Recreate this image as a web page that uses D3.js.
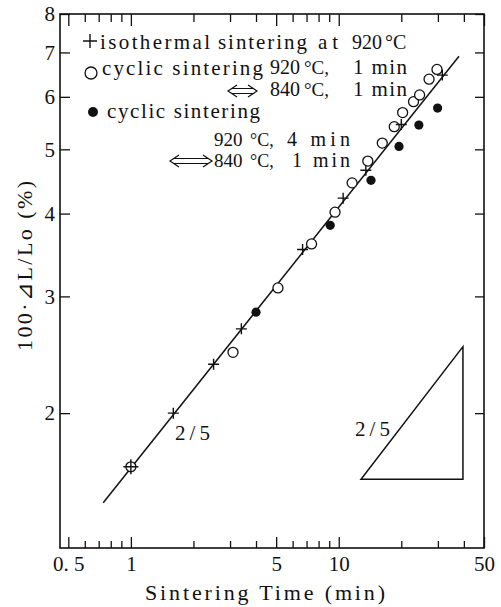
<!DOCTYPE html>
<html>
<head>
<meta charset="utf-8">
<script src="https://cdn.jsdelivr.net/npm/d3@7"></script>
<style>
  body { margin: 0; background: #fff; }
  text { font-family: "Liberation Serif", "DejaVu Serif", serif; fill: #111; }
</style>
</head>
<body>
<svg id="chart" width="501" height="607"></svg>
<script>

// data (time in min, 100*dL/Lo in %)
var isoTime = [1, 1.6, 2.5, 3.4, 6.7, 10.5, 13.5, 20, 31.5];
var isoVal = [1.66, 2.0, 2.37, 2.68, 3.53, 4.22, 4.65, 5.45, 6.47];

var cyc1Time = [1, 3.1, 5.1, 7.4, 9.6, 11.6, 13.8, 16.2, 18.5, 20.3, 22.9, 24.5, 27.2, 29.7];
var cyc1Val = [1.66, 2.47, 3.09, 3.60, 4.02, 4.45, 4.80, 5.11, 5.41, 5.68, 5.90, 6.04, 6.38, 6.60];

var cyc4Time = [4.0, 9.1, 14.3, 19.5, 24.3, 29.9];
var cyc4Val = [2.84, 3.84, 4.49, 5.05, 5.44, 5.77];

// fitted line (slope 2/5) and the slope triangle
var fitLine = [[0.736, 1.465], [37.9, 6.91]];
var slopeTri = [[12.8, 1.59], [39.6, 1.59], [39.6, 2.52]];

// ticks
var xMajor = [0.5, 1, 5, 10, 50];
var xMajorLabels = ["0. 5", "1", "5", "10", "50"];
var xMinor = [0.6, 0.7, 0.8, 0.9, 2, 3, 4, 6, 7, 8, 9, 20, 30, 40];
var yTicks = [2, 3, 4, 5, 6, 7, 8];

var svg = d3.select("#chart");

// plot box (window.top is read only, so other names here)
var boxL = 60, boxR = 484, boxT = 14, boxB = 548;

var x = d3.scaleLog().domain([0.456, 50]).range([boxL, boxR]);
var y = d3.scaleLog().domain([1.252, 8]).range([boxB, boxT]);

// frame
svg.append("rect")
  .attr("x", boxL).attr("y", boxT)
  .attr("width", boxR - boxL).attr("height", boxB - boxT)
  .attr("fill", "none").attr("stroke", "#111").attr("stroke-width", 1.6);

function styleAxis(g) {
  g.select(".domain").remove();
  g.selectAll("line").attr("stroke", "#111").attr("stroke-width", 1.3);
  g.selectAll("text")
    .attr("font-family", "'Liberation Serif', serif")
    .attr("font-size", 21)
    .attr("fill", "#111");
}

// bottom axis, ticks pointing in
svg.append("g")
  .attr("transform", "translate(0," + boxB + ")")
  .call(d3.axisBottom(x).tickValues(xMajor).tickSize(-11).tickPadding(8)
    .tickFormat(function(d, i) { return xMajorLabels[i]; }))
  .call(styleAxis);

svg.append("g")
  .attr("transform", "translate(0," + boxB + ")")
  .call(d3.axisBottom(x).tickValues(xMinor).tickSize(-7).tickFormat(""))
  .call(styleAxis);

// top axis, ticks only
svg.append("g")
  .attr("transform", "translate(0," + boxT + ")")
  .call(d3.axisTop(x).tickValues(xMajor).tickSize(-12).tickFormat(""))
  .call(styleAxis);

svg.append("g")
  .attr("transform", "translate(0," + boxT + ")")
  .call(d3.axisTop(x).tickValues(xMinor).tickSize(-8).tickFormat(""))
  .call(styleAxis);

// left axis
svg.append("g")
  .attr("transform", "translate(" + boxL + ",0)")
  .call(d3.axisLeft(y).tickValues(yTicks).tickSize(-10).tickPadding(5)
    .tickFormat(d3.format("d")))
  .call(styleAxis);

// right axis, ticks only
svg.append("g")
  .attr("transform", "translate(" + boxR + ",0)")
  .call(d3.axisRight(y).tickValues(yTicks).tickSize(-9).tickFormat(""))
  .call(styleAxis);

// axis titles
svg.append("text")
  .attr("transform", "translate(32,266) rotate(-90)")
  .attr("text-anchor", "middle")
  .attr("font-size", 22)
  .attr("textLength", 170)
  .attr("lengthAdjust", "spacing")
  .text("100·⊿L/Lo (%)");

svg.append("text")
  .attr("x", 145).attr("y", 600)
  .attr("font-size", 22)
  .attr("textLength", 240)
  .attr("lengthAdjust", "spacing")
  .text("Sintering Time (min)");

// fitted line
var line = d3.line()
  .x(function(d) { return x(d[0]); })
  .y(function(d) { return y(d[1]); });

svg.append("path")
  .attr("d", line(fitLine))
  .attr("fill", "none").attr("stroke", "#111").attr("stroke-width", 1.5);

// slope triangle
svg.append("path")
  .attr("d", line(slopeTri) + "Z")
  .attr("fill", "none").attr("stroke", "#111").attr("stroke-width", 1.5);

// markers
var iso = isoTime.map(function(t, i) { return [t, isoVal[i]]; });
var cyc1 = cyc1Time.map(function(t, i) { return [t, cyc1Val[i]]; });
var cyc4 = cyc4Time.map(function(t, i) { return [t, cyc4Val[i]]; });

svg.append("g").selectAll("circle")
  .data(cyc1)
  .enter()
  .append("circle")
  .attr("cx", function(d) { return x(d[0]); })
  .attr("cy", function(d) { return y(d[1]); })
  .attr("r", 5)
  .attr("fill", "#fff")
  .attr("stroke", "#111")
  .attr("stroke-width", 1.3);

svg.append("g").selectAll("circle")
  .data(cyc4)
  .enter()
  .append("circle")
  .attr("cx", function(d) { return x(d[0]); })
  .attr("cy", function(d) { return y(d[1]); })
  .attr("r", 4.6)
  .attr("fill", "#111");

svg.append("g").selectAll("path")
  .data(iso)
  .enter()
  .append("path")
  .attr("d", function(d) {
    var cx = x(d[0]), cy = y(d[1]), s = d[0] == 1 ? 7.5 : 5.5;
    return "M" + (cx - s) + "," + cy + "H" + (cx + s) + "M" + cx + "," + (cy - s) + "V" + (cy + s);
  })
  .attr("stroke", "#111")
  .attr("stroke-width", 1.4);

// slope labels
svg.append("text").attr("x", 175).attr("y", 440)
  .attr("font-size", 21).attr("textLength", 35).text("2/5");
svg.append("text").attr("x", 355).attr("y", 436)
  .attr("font-size", 21).attr("textLength", 35).text("2/5");

// legend, len is optional (stretch words to the width in the picture)
function seg(str, x0, base, len, size) {
  var t = svg.append("text")
    .attr("x", x0).attr("y", base)
    .attr("font-size", size || 21)
    .text(str);
  if (len) {
    t.attr("textLength", len).attr("lengthAdjust", "spacing");
  }
}

function dblArrow(x0, x1, cy) {
  var h = 6, a = 9;
  var p = "M" + (x0 + a) + "," + (cy - h) + "L" + x0 + "," + cy + "L" + (x0 + a) + "," + (cy + h) +
    "M" + (x1 - a) + "," + (cy - h) + "L" + x1 + "," + cy + "L" + (x1 - a) + "," + (cy + h) +
    "M" + (x0 + 4) + "," + (cy - 2.5) + "H" + (x1 - 4) +
    "M" + (x0 + 4) + "," + (cy + 2.5) + "H" + (x1 - 4);
  svg.append("path").attr("d", p)
    .attr("fill", "none").attr("stroke", "#111").attr("stroke-width", 1.2);
}

// + isothermal
svg.append("path")
  .attr("d", "M83,41H97M90,34V48")
  .attr("stroke", "#111").attr("stroke-width", 1.4);
seg("isothermal", 100, 49, 110);
seg("sintering", 218, 49, 89);
seg("at", 318, 49, 20);
seg("920", 352, 49, null, 20);
seg("°C", 385, 49, null, 20);

// o cyclic 1 min / 1 min
svg.append("circle").attr("cx", 91).attr("cy", 73).attr("r", 6)
  .attr("fill", "#fff").attr("stroke", "#111").attr("stroke-width", 1.3);
seg("cyclic sintering", 102, 75, 161);
seg("920", 270, 74, null, 20);
seg("°C,", 304, 74, null, 19);
seg("1 min", 353, 74, 54);
dblArrow(228, 257, 91);
seg("840", 270, 96, null, 20);
seg("°C,", 304, 96, null, 19);
seg("1 min", 353, 96, 54);

// filled cyclic 4 min / 1 min
svg.append("circle").attr("cx", 93).attr("cy", 112).attr("r", 5)
  .attr("fill", "#111");
seg("cyclic sintering", 107, 118, 153);
seg("920", 214, 146, null, 19);
seg("°C,", 250, 146, null, 18);
seg("4 min", 287, 146, 63, 20);
dblArrow(170, 212, 161);
seg("840", 214, 167, null, 19);
seg("°C,", 250, 167, null, 18);
seg("1 min", 292, 167, 58, 20);

</script>
</body>
</html>
